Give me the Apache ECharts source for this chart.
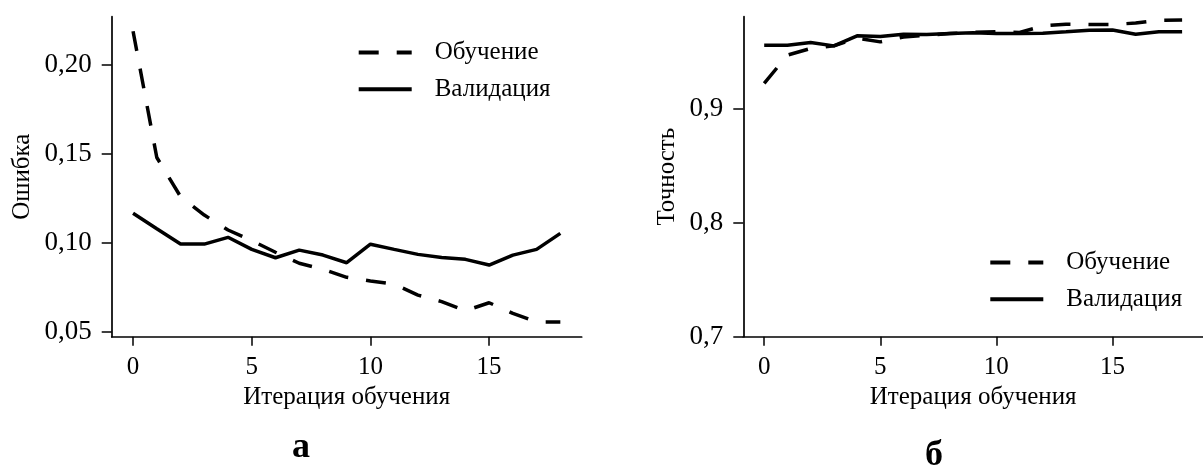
<!DOCTYPE html>
<html>
<head>
<meta charset="utf-8">
<script src="https://cdn.jsdelivr.net/npm/echarts@6/dist/echarts.min.js"></script>
<style>
  html, body { margin: 0; padding: 0; background: #fff; }
  #chart { width: 1203px; height: 467px; }
</style>
</head>
<body>
<div id="chart"></div>
<script>
// итерации обучения
var iterations = [0, 1, 2, 3, 4, 5, 6, 7, 8, 9, 10, 11, 12, 13, 14, 15, 16, 17, 18];

// а: ошибка
var lossTrain = [0.219, 0.148, 0.126, 0.1156, 0.1072, 0.1012, 0.0947, 0.0885, 0.0851, 0.0806,
                 0.0785, 0.0768, 0.0706, 0.0669, 0.0618, 0.0663, 0.0603, 0.0555, 0.0555];
var lossVal = [0.1166, 0.1079, 0.0993, 0.0993, 0.1031, 0.0963, 0.0916, 0.0959, 0.0931, 0.0888,
               0.0992, 0.0963, 0.0935, 0.0918, 0.0907, 0.0875, 0.0931, 0.0963, 0.1053];

// б: точность
var accTrain = [0.9222, 0.9471, 0.9529, 0.9552, 0.962, 0.9587, 0.963, 0.9645, 0.966, 0.967,
                0.9677, 0.967, 0.9727, 0.9742, 0.974, 0.974, 0.9752, 0.9777, 0.978];
var accVal = [0.9558, 0.9558, 0.9581, 0.9552, 0.964, 0.9634, 0.9654, 0.9651, 0.966, 0.9668,
              0.966, 0.966, 0.9663, 0.9675, 0.9689, 0.9692, 0.9654, 0.9675, 0.9677];

var xTicks = [0, 5, 10, 15];
var lossTicks = [0.05, 0.10, 0.15, 0.20];
var accTicks = [0.7, 0.8, 0.9];

var seriesNames = ['Обучение', 'Валидация'];
var xName = 'Итерация обучения';

var FONT = '"Liberation Serif", "Times New Roman", serif';

function pairs(values) {
    var out = [];
    for (var i = 0; i < iterations.length; i++) {
        out.push([iterations[i], values[i]]);
    }
    return out;
}

function comma(v, d) {
    return v.toFixed(d).replace('.', ',');
}

function xAxisCfg(idx) {
    return {
        type: 'value',
        gridIndex: idx,
        min: -0.9,
        max: 18.9,
        name: xName,
        nameLocation: 'middle',
        nameGap: 47,
        nameTextStyle: { fontFamily: FONT, fontSize: 25, color: '#000' },
        axisLine: { show: true, onZero: false, lineStyle: { color: '#000', width: 1.7 } },
        axisTick: { show: true, customValues: xTicks, length: 9, lineStyle: { color: '#000', width: 1.5 } },
        axisLabel: { customValues: xTicks, margin: 18, fontFamily: FONT, fontSize: 25, color: '#000' },
        splitLine: { show: false }
    };
}

function yAxisCfg(idx, name, min, max, ticks, digits, gap) {
    return {
        type: 'value',
        gridIndex: idx,
        min: min,
        max: max,
        name: name,
        nameLocation: 'middle',
        nameRotate: 90,
        nameGap: gap,
        nameTextStyle: { fontFamily: FONT, fontSize: 25, color: '#000' },
        axisLine: { show: true, onZero: false, lineStyle: { color: '#000', width: 1.7 } },
        axisTick: { show: true, customValues: ticks, length: 10, lineStyle: { color: '#000', width: 1.5 } },
        axisLabel: {
            customValues: ticks, margin: 20, fontFamily: FONT, fontSize: 27, color: '#000',
            formatter: function (v) { return comma(v, digits); }
        },
        splitLine: { show: false }
    };
}

function lineSeries(name, values, idx, dashed) {
    return {
        name: name,
        type: 'line',
        xAxisIndex: idx,
        yAxisIndex: idx,
        data: pairs(values),
        symbol: 'none',
        lineStyle: { color: '#000', width: 3.5, type: dashed ? [20, 18] : 'solid' },
        itemStyle: { color: '#000' }
    };
}

function legendCfg(left, top) {
    return {
        data: seriesNames,
        orient: 'vertical',
        left: left,
        top: top,
        padding: 0,
        itemWidth: 53,
        itemHeight: 25,
        itemGap: 11.7,
        // only the line sample, no marker
        itemStyle: { opacity: 0 },
        lineStyle: { width: 4 },
        textStyle: { fontFamily: FONT, fontSize: 25, color: '#000', padding: [0, 0, 0, 18] }
    };
}

var chart = echarts.init(document.getElementById('chart'), null, { renderer: 'canvas' });

var option = {
    animation: false,
    backgroundColor: '#fff',
    grid: [
        { left: 111.7, top: 16.7, width: 470, height: 320 },
        { left: 743.3, top: 16.7, width: 468.3, height: 320 }
    ],
    xAxis: [xAxisCfg(0), xAxisCfg(1)],
    yAxis: [
        yAxisCfg(0, 'Ошибка', 0.04719, 0.2272, lossTicks, 2, 77),
        yAxisCfg(1, 'Точность', 0.7, 0.9808, accTicks, 1, 63)
    ],
    legend: [legendCfg(356.7, 40), legendCfg(988.3, 250)],
    title: [
        { text: 'а', left: 296, top: 425, textAlign: 'center',
          textStyle: { fontFamily: FONT, fontSize: 36, fontWeight: 'bold', color: '#000', lineHeight: 36 } },
        { text: 'б', left: 929, top: 433, textAlign: 'center',
          textStyle: { fontFamily: FONT, fontSize: 36, fontWeight: 'bold', color: '#000', lineHeight: 36 } }
    ],
    series: [
        lineSeries(seriesNames[0], lossTrain, 0, true),
        lineSeries(seriesNames[1], lossVal, 0, false),
        lineSeries(seriesNames[0], accTrain, 1, true),
        lineSeries(seriesNames[1], accVal, 1, false)
    ]
};

chart.setOption(option);
</script>
</body>
</html>
